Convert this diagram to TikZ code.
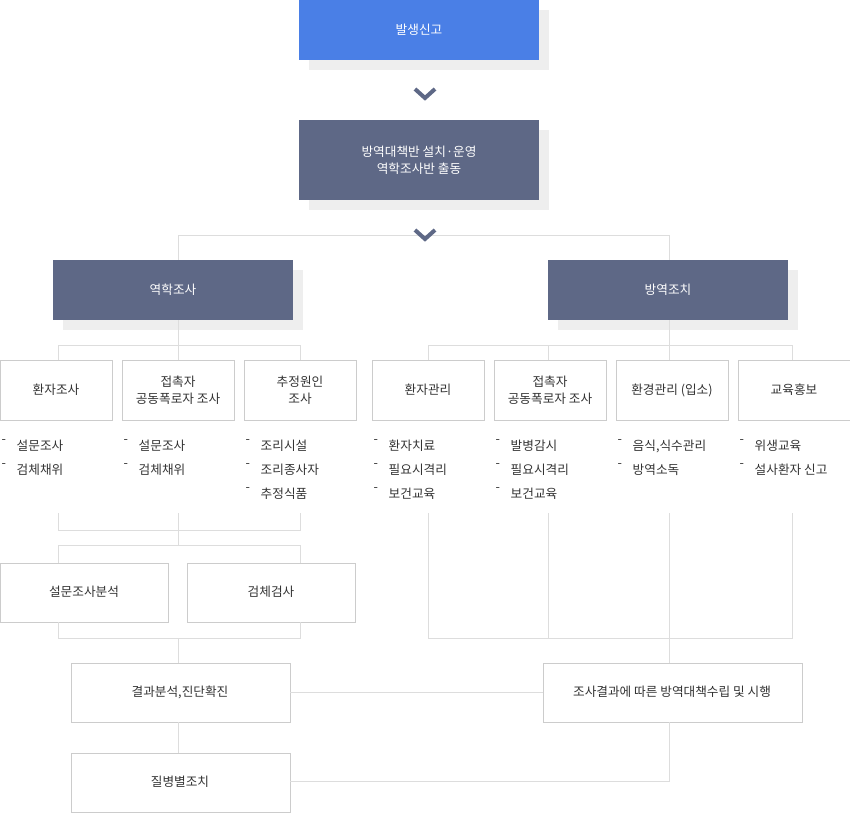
\documentclass[tikz,border=0pt]{standalone}
\usepackage{fontspec}
\setmainfont{Noto Sans CJK KR}
\definecolor{blu}{HTML}{4A7FE6}
\definecolor{slate}{HTML}{5E6886}
\definecolor{ln}{HTML}{DDDDDD}
\definecolor{bd}{HTML}{CCCCCC}
\definecolor{tx}{HTML}{333333}
\begin{document}
\begin{tikzpicture}[x=0.75pt,y=-0.75pt,
  txt/.style={font=\fontsize{9.5}{13}\selectfont,text=tx,align=center},
  lst/.style={font=\fontsize{9.5}{18}\selectfont,text=tx,anchor=north west,align=left},
  cn/.style={draw=ln,line width=0.75pt}]
\useasboundingbox (0,0) rectangle (850,813);
% shadows
\foreach \a/\b/\c/\d in {299/0/539/60,299/120/539/200,53/260/293/320,548/260/788/320}
  \fill[gray!13] (\a+10,\b+10) rectangle (\c+10,\d+10);
\fill[blu] (299,0) rectangle (539,60);
\node[txt,text=white] (a) at (419,30) {발생신고};
\fill[slate] (299,120) rectangle (539,200);
\node[txt,text=white] (b) at (419,160) {방역대책반 설치·운영\\역학조사반 출동};
% connectors top
\draw[cn] (178,260) |- (669,236) -- (669,260);
\foreach \y in {95,236}
  \draw[slate,line width=3pt,line join=miter] (415,\y-6) -- (425,\y+3) -- (435,\y-6);
\fill[slate] (53,260) rectangle (293,320);
\node[txt,text=white] (c) at (173,290) {역학조사};
\fill[slate] (548,260) rectangle (788,320);
\node[txt,text=white] (d) at (668,290) {방역조치};
\draw[cn] (178,320) -- (178,345);
\draw[cn] (58,360) |- (300,345) -- (300,360);
\draw[cn] (178,345) -- (178,360);
\draw[cn] (669,320) -- (669,345);
\draw[cn] (428,360) |- (792,345) -- (792,360);
\draw[cn] (548,345) -- (548,360);
\draw[cn] (669,345) -- (669,360);
% small boxes
\foreach \x/\t/\n in {0/환자조사/e1,122/{접촉자\\공동폭로자 조사}/e2,244/{추정원인\\조사}/e3,372/환자관리/e4,494/{접촉자\\공동폭로자 조사}/e5,616/환경관리 (입소)/e6,738/교육홍보/e7}{
  \draw[bd,fill=white] (\x,360) rectangle (\x+112,420);
  \node[txt] (\n) at (\x+56,390) {\t};
}
% lists
\foreach \x/\t in {0/{설문조사\\검체채위},122/{설문조사\\검체채위},244/{조리시설\\조리종사자\\추정식품},372/{환자치료\\필요시격리\\보건교육},494/{발병감시\\필요시격리\\보건교육},616/{음식,식수관리\\방역소독},738/{위생교육\\설사환자 신고}}{
  \node[lst] at (\x+12,435) {\t};
  \node[lst] at (\x-3,435) {-\\-\\-};
}
% cover extra dashes
\foreach \x in {0,122,616,738} \fill[white] (\x-3,484) rectangle (\x+12,505);
% left lower
\draw[cn] (58,513) -- (58,530) -- (300,530) -- (300,513);
\draw[cn] (178,513) -- (178,545);
\draw[cn] (58,563) |- (300,545) -- (300,563);
\draw[bd,fill=white] (0,563) rectangle (168,622);
\node[txt] (f1) at (84,592) {설문조사분석};
\draw[bd,fill=white] (187,563) rectangle (355,622);
\node[txt] (f2) at (271,592) {검체검사};
\draw[cn] (58,622) |- (300,638) -- (300,622);
\draw[cn] (178,638) -- (178,663);
\draw[bd,fill=white] (71,663) rectangle (290,722);
\node[txt] (g) at (180,692) {결과분석,진단확진};
\draw[cn] (178,722) -- (178,753);
\draw[bd,fill=white] (71,753) rectangle (290,812);
\node[txt] (h) at (180,782) {질병별조치};
% right lower
\draw[cn] (428,513) |- (792,638) -- (792,513);
\draw[cn] (548,513) -- (548,638);
\draw[cn] (669,513) -- (669,663);
\draw[bd,fill=white] (543,663) rectangle (802,722);
\node[txt] (k) at (672,692) {조사결과에 따른 방역대책수립 및 시행};
\draw[cn] (290,692) -- (543,692);
\draw[cn] (290,781) -| (669,722);
\end{tikzpicture}
\end{document}
